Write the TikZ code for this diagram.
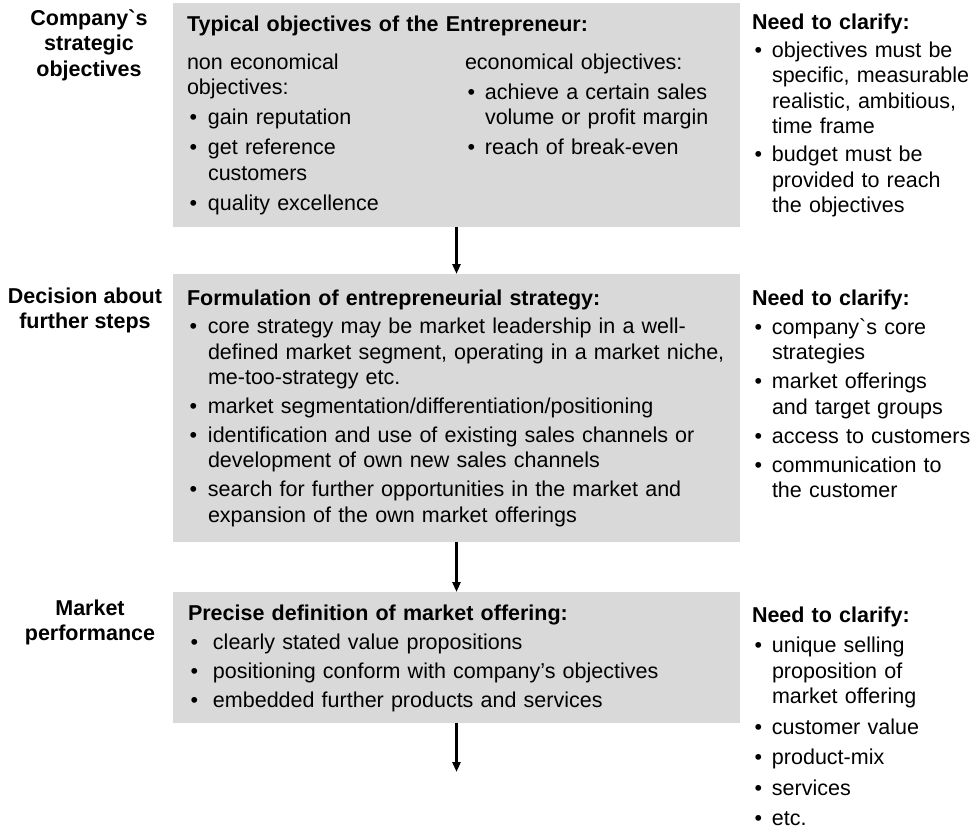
\documentclass[tikz,border=0pt]{standalone}
\usepackage{fontspec}
\newfontfamily\lsans{Liberation Sans}
\usetikzlibrary{arrows.meta}
\definecolor{boxgray}{HTML}{D9D9D9}
\newlength{\itemgap}
\setlength{\itemgap}{3.5pt}
\newcommand{\bitem}[2][21pt]{\par\vspace{\itemgap}\hangindent=#1\hangafter=1\noindent\makebox[#1][l]{\hspace{2.5pt}•}#2\par}
\newcommand{\fstrut}{\rule{0pt}{17pt}}
\begin{document}
\begin{tikzpicture}[x=1pt,y=-1pt,
  every node/.style={inner sep=0pt, outer sep=0pt},
  txt/.style={anchor=north west, text width=#1, font=\lsans\fontsize{21.5}{25.5}\selectfont},
  lbl/.style={anchor=north, align=center, font=\lsans\bfseries\fontsize{21.5}{25.5}\selectfont},
  graybox/.style={anchor=north west, fill=boxgray, draw=none, minimum width=567pt},
  flow/.style={line width=2.5pt, -{Triangle[width=8pt,length=10pt]}}]
\useasboundingbox (0,0) rectangle (976,831);
% boxes
\node[graybox, minimum height=224pt] (b1) at (173,3) {};
\node[graybox, minimum height=268pt] (b2) at (173,274) {};
\node[graybox, minimum height=131pt] (b3) at (173,592) {};
\coordinate (end) at (456.5,772);
\draw[flow] (b1.south) -- (b2.north);
\draw[flow] (b2.south) -- (b3.north);
\draw[flow] (b3.south) -- (end);
% left labels
\node[lbl] (l1) at (89,8) {\fstrut Company`s\\strategic\\objectives};
\node[lbl] (l2) at (85,286) {\fstrut Decision about\\further steps};
\node[lbl] (l3) at (90,598) {\fstrut Market\\performance};
% box 1
\node[txt=540pt] (h1) at (187,14) {\fstrut\textbf{Typical objectives of the Entrepreneur:}};
\node[txt=270pt] (c1a) at (187,52) {\setlength{\itemgap}{4.5pt}\fstrut non economical\newline objectives:
  \bitem{gain reputation}
  \bitem{get reference\newline customers}
  \bitem{quality excellence}};
\node[txt=280pt] (c1b) at (465,52) {\setlength{\itemgap}{4.5pt}\fstrut economical objectives:
  \bitem[20pt]{achieve a certain sales\newline volume or profit margin}
  \bitem[20pt]{reach of break-even}};
\node[txt=230pt] (r1) at (752,12) {\setlength{\itemgap}{2.5pt}\fstrut\textbf{Need to clarify:}
  \bitem[20pt]{objectives must be\newline specific, measurable\newline realistic, ambitious,\newline time frame}
  \bitem[20pt]{budget must be\newline provided to reach\newline the objectives}};
% box 2
\node[txt=600pt] (t2) at (187,288) {\setlength{\itemgap}{3.25pt}\fstrut\textbf{Formulation of entrepreneurial strategy:}
  \bitem{core strategy may be market leadership in a well-\newline defined market segment, operating in a market niche,\newline me-too-strategy etc.}
  \bitem{market segmentation/differentiation/positioning}
  \bitem{identification and use of existing sales channels or\newline development of own new sales channels}
  \bitem{search for further opportunities in the market and\newline expansion of the own market offerings}};
\node[txt=230pt] (r2) at (752,288) {\fstrut\textbf{Need to clarify:}
  \bitem[20pt]{company`s core\newline strategies}
  \bitem[20pt]{market offerings\newline and target groups}
  \bitem[20pt]{access to customers}
  \bitem[20pt]{communication to\newline the customer}};
% box 3
\node[txt=600pt] (t3) at (188,603) {\fstrut\textbf{Precise definition of market offering:}
  \bitem[25pt]{clearly stated value propositions}
  \bitem[25pt]{positioning conform with company’s objectives}
  \bitem[25pt]{embedded further products and services}};
\node[txt=230pt] (r3) at (752,605) {\setlength{\itemgap}{5pt}\fstrut\textbf{Need to clarify:}
  \bitem[20pt]{unique selling\newline proposition of\newline market offering}
  \bitem[20pt]{customer value}
  \bitem[20pt]{product-mix}
  \bitem[20pt]{services}
  \bitem[20pt]{etc.}};
\end{tikzpicture}
\end{document}
